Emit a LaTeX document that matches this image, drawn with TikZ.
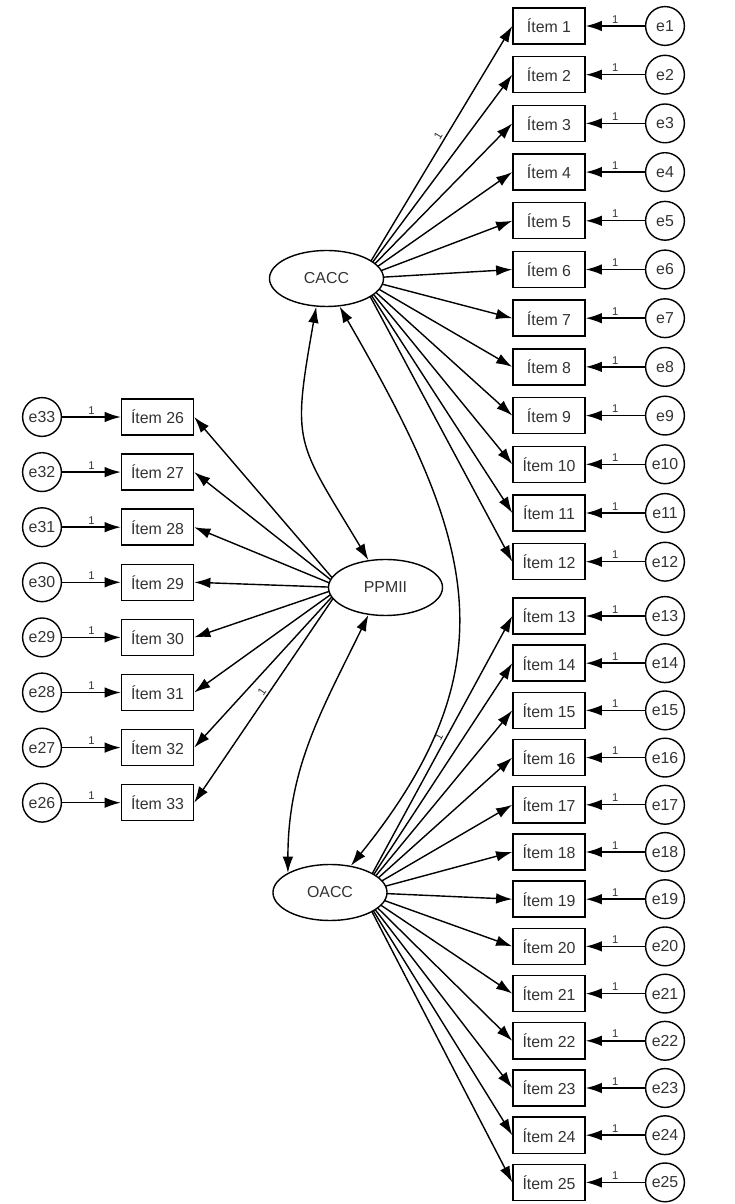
\documentclass[tikz,border=0pt]{standalone}
\usepackage{fontspec}
\setmainfont{Liberation Sans}
\usetikzlibrary{positioning, arrows.meta, backgrounds, calc, shapes.geometric}

\begin{document}
\begin{tikzpicture}[
  x=0.025cm, y=0.025cm,
  font=\fontsize{11.3}{13}\selectfont,
  obs/.style={draw, line width=1pt, minimum width=1.8cm, minimum height=0.9cm,
              inner sep=0pt, text=black!80},
  err/.style={draw, circle, line width=1pt, minimum size=0.97cm, inner sep=0pt,
              text=black!80},
  lat/.style={draw, ellipse, line width=1pt, fill=white, minimum width=2.85cm,
              minimum height=1.4cm, inner sep=0pt, text=black!80},
  load/.style={-{Latex[length=11.5pt, width=7.5pt]}, line width=1pt},
  cov/.style={{Latex[length=11.5pt, width=7.5pt]}-{Latex[length=11.5pt, width=7.5pt]},
              line width=1pt},
  one/.style={font=\fontsize{8}{9}\selectfont, text=black!80, inner sep=1.5pt},
]
\useasboundingbox (0,0) rectangle (735,1204);

% Latent factors
\node[lat] (CACC)  at (326.5,925.5) {CACC};
\node[lat] (PPMII) at (385.5,616.5) {PPMII};
\node[lat] (OACC)  at (330,311.5)   {OACC};

% Right column: items 1-12 and 13-25 with their errors
\foreach \k in {1,...,12} {
  \pgfmathsetmacro{\yy}{1178-48.7*(\k-1)}
  \node[obs] (i\k) at (549,\yy) {Ítem \k};
  \node[err] (e\k) at (665,\yy) {e\k};
  \draw[load] (e\k) -- node[one, above] {1} (i\k);
}
\foreach \k in {13,...,25} {
  \pgfmathsetmacro{\yy}{588-47.2*(\k-13)}
  \node[obs] (i\k) at (549,\yy) {Ítem \k};
  \node[err] (e\k) at (665,\yy) {e\k};
  \draw[load] (e\k) -- node[one, above] {1} (i\k);
}

% Left column: items 26-33, errors e33 ... e26
\foreach \k in {26,...,33} {
  \pgfmathsetmacro{\yy}{787-55.1*(\k-26)}
  \pgfmathtruncatemacro{\ee}{59-\k}
  \node[obs] (i\k) at (157.5,\yy) {Ítem \k};
  \node[err] (e\ee) at (42,\yy) {e\ee};
  \draw[load] (e\ee) -- node[one, above] {1} (i\k);
}

% Loadings (behind the ellipses)
\begin{scope}[on background layer]
\draw[load] ($(CACC.center)+(34,0)$)
        -- node[one, sloped, above, pos=0.55] {1} (i1.west);
\foreach \k in {2,...,12}
  \draw[load] ($(CACC.center)+(34,0)$) -- (i\k.west);
\draw[load] ($(OACC.center)+(32,0)$)
        -- node[one, sloped, above, pos=0.55] {1} (i13.west);
\foreach \k in {14,...,25}
  \draw[load] ($(OACC.center)+(32,0)$) -- (i\k.west);
\foreach \k in {26,...,32}
  \draw[load] ($(PPMII.center)+(-45,0)$) -- (i\k.east);
\draw[load] ($(PPMII.center)+(-45,0)$)
        -- node[one, sloped, above, pos=0.5] {1} (i33.east);
\end{scope}

% Covariances
\draw[cov] (CACC.-110) to[out=-100, in=121, looseness=1.4] (PPMII.122);
\draw[cov] (CACC.-65) to[out=-60, in=51, looseness=1.2] (OACC.52);
\draw[cov] (PPMII.-122) to[out=-116, in=90] (OACC.155);
\end{tikzpicture}
\end{document}
